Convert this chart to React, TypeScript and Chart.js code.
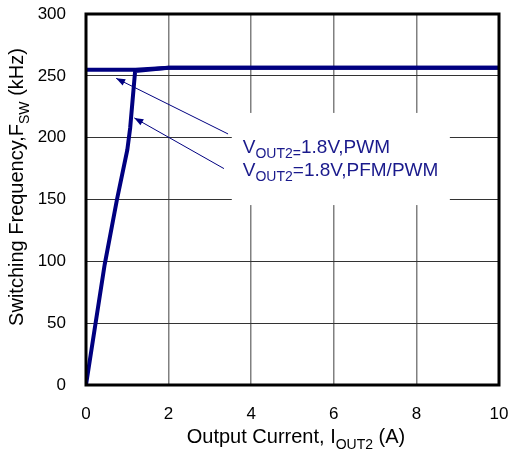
import React, { useEffect, useRef } from "react";
import { Chart, registerables } from "chart.js";

Chart.register(...registerables);

const pwmX = [0, 1.2, 2, 10];
const pwmY = [255, 255, 256.5, 256.5];
const pfmX = [0, 0.45, 0.75, 1.0, 1.07, 1.19, 2, 10];
const pfmY = [0, 97, 150, 190, 208, 254, 256.5, 256.5];
const xTicks = [0, 2, 4, 6, 8, 10];
const yTicks = [0, 50, 100, 150, 200, 250, 300];
// annotation arrows: [tailX, tailY, headX, headY]
const arrows = [
  [3.44, 203, 0.73, 248],
  [3.34, 175, 1.17, 216],
];
const noteBox = [3.53, 220, 8.81, 145.5];

const NAVY = "#000080";
const FONT = "'Liberation Sans', Arial, sans-serif";

function drawSubText(ctx: CanvasRenderingContext2D, parts: [string, boolean][], x: number, y: number, size: number, subSize: number, align: "left" | "center") {
  let total = 0;
  for (const [t, sub] of parts) {
    ctx.font = `${sub ? subSize : size}px ${FONT}`;
    total += ctx.measureText(t).width;
  }
  let cx = align === "center" ? x - total / 2 : x;
  ctx.textAlign = "left";
  ctx.textBaseline = "alphabetic";
  for (const [t, sub] of parts) {
    ctx.font = `${sub ? subSize : size}px ${FONT}`;
    ctx.fillText(t, cx, sub ? y + size * 0.28 : y);
    cx += ctx.measureText(t).width;
  }
}

const customPlugin = {
  id: "custom",
  beforeDatasetsDraw(chart: any) {
    const { ctx, scales } = chart;
    const x = scales.x, y = scales.y;
    ctx.save();
    ctx.fillStyle = "#ffffff";
    const x0 = x.getPixelForValue(noteBox[0]);
    const y0 = y.getPixelForValue(noteBox[1]);
    const x1 = x.getPixelForValue(noteBox[2]);
    const y1 = y.getPixelForValue(noteBox[3]);
    ctx.fillRect(x0, y0, x1 - x0, y1 - y0);
    ctx.restore();
  },
  afterDatasetsDraw(chart: any) {
    const { ctx, scales, chartArea } = chart;
    const x = scales.x, y = scales.y;
    ctx.save();
    // arrows
    ctx.strokeStyle = NAVY;
    ctx.fillStyle = NAVY;
    ctx.lineWidth = 1;
    for (const a of arrows) {
      const tx = x.getPixelForValue(a[0]), ty = y.getPixelForValue(a[1]);
      const hx = x.getPixelForValue(a[2]), hy = y.getPixelForValue(a[3]);
      ctx.beginPath();
      ctx.moveTo(tx, ty);
      ctx.lineTo(hx, hy);
      ctx.stroke();
      const ang = Math.atan2(hy - ty, hx - tx);
      const L = 9, W = 3.5;
      ctx.beginPath();
      ctx.moveTo(hx, hy);
      ctx.lineTo(hx - L * Math.cos(ang) + W * Math.sin(ang), hy - L * Math.sin(ang) - W * Math.cos(ang));
      ctx.lineTo(hx - L * Math.cos(ang) - W * Math.sin(ang), hy - L * Math.sin(ang) + W * Math.cos(ang));
      ctx.closePath();
      ctx.fill();
    }
    // note text
    ctx.fillStyle = "#1a1a8c";
    const tx = x.getPixelForValue(noteBox[0]) + 11;
    drawSubText(ctx, [["V", false], ["OUT2=", true], ["1.8V,PWM", false]], tx, 153, 19, 14, "left");
    drawSubText(ctx, [["V", false], ["OUT2", true], ["=1.8V,PFM/PWM", false]], tx, 176, 19, 14, "left");
    // frame
    ctx.strokeStyle = "#000";
    ctx.lineWidth = 3;
    ctx.strokeRect(chartArea.left, chartArea.top, chartArea.right - chartArea.left, chartArea.bottom - chartArea.top);
    // axis titles
    ctx.fillStyle = "#000";
    drawSubText(ctx, [["Output Current, I", false], ["OUT2", true], [" (A)", false]], 296, 443, 20, 14, "center");
    ctx.translate(23, 187);
    ctx.rotate(-Math.PI / 2);
    drawSubText(ctx, [["Switching Frequency,F", false], ["SW", true], [" (kHz)", false]], 0, 0, 20, 14, "center");
    ctx.restore();
  },
};

export default function App() {
  const ref = useRef<HTMLCanvasElement>(null);
  useEffect(() => {
    if (!ref.current) return;
    const chart = new Chart(ref.current, {
      type: "scatter",
      data: {
        datasets: [
          {
            label: "PWM",
            data: pwmX.map((v, i) => ({ x: v, y: pwmY[i] })),
            showLine: true,
            borderColor: NAVY,
            borderWidth: 4,
            pointRadius: 0,
            fill: false,
          },
          {
            label: "PFM/PWM",
            data: pfmX.map((v, i) => ({ x: v, y: pfmY[i] })),
            showLine: true,
            borderColor: NAVY,
            borderWidth: 4,
            pointRadius: 0,
            fill: false,
          },
        ],
      },
      options: {
        animation: false,
        responsive: false,
        maintainAspectRatio: false,
        layout: { padding: { top: 14, right: 13, left: 0, bottom: 0 } },
        plugins: { legend: { display: false }, tooltip: { enabled: false } },
        scales: {
          x: {
            type: "linear",
            min: 0,
            max: 10,
            afterBuildTicks: (s: any) => { s.ticks = xTicks.map((v) => ({ value: v })); },
            afterFit: (s: any) => {
              s.height = 72;
              s.paddingLeft = 0; s.paddingRight = 0; s.paddingTop = 0; s.paddingBottom = 0;
            },
            ticks: { color: "#000", font: { family: FONT, size: 17 }, padding: 19 },
            grid: {
              color: (c: any) => (c.tick && (c.tick.value === 0 || c.tick.value === 10) ? "rgba(0,0,0,0)" : "#808080"),
              lineWidth: 1.5,
              drawTicks: false,
            },
            border: { display: false },
          },
          y: {
            type: "linear",
            min: 0,
            max: 300,
            afterBuildTicks: (s: any) => { s.ticks = yTicks.map((v) => ({ value: v })); },
            afterFit: (s: any) => {
              s.width = 86;
              s.paddingLeft = 0; s.paddingRight = 0; s.paddingTop = 0; s.paddingBottom = 0;
            },
            ticks: { color: "#000", font: { family: FONT, size: 17 }, padding: 20 },
            grid: {
              color: (c: any) => (c.tick && (c.tick.value === 0 || c.tick.value === 300) ? "rgba(0,0,0,0)" : "#333333"),
              lineWidth: 1,
              drawTicks: false,
            },
            border: { display: false },
          },
        },
      },
      plugins: [customPlugin],
    });
    return () => chart.destroy();
  }, []);
  return (
    <div style={{ position: "fixed", left: 0, top: 0, width: 512, height: 457, background: "#fff" }}>
      <canvas ref={ref} width={512} height={457} style={{ width: 512, height: 457 }} />
    </div>
  );
}
